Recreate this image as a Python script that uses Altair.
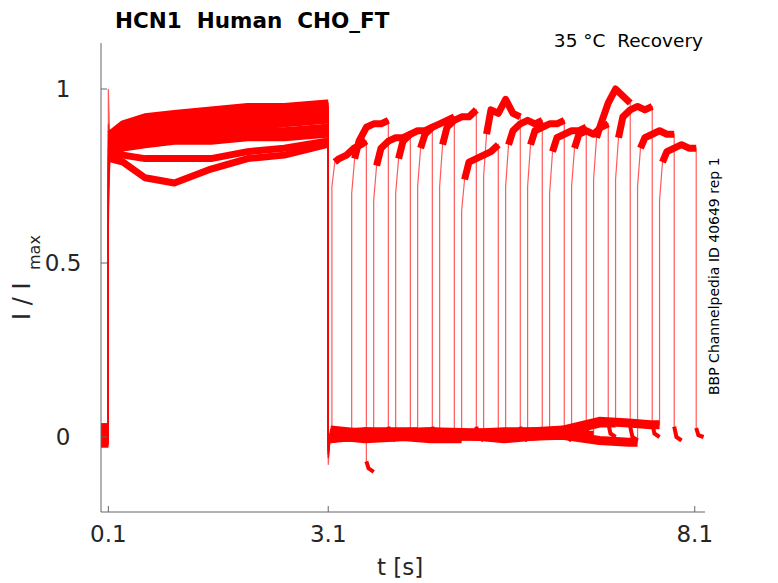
import altair as alt
import pandas as pd

# ---------------- data ----------------
W, H = 604, 469
X_DOMAIN = [0.0, 8.24]
Y_DOMAIN = [-0.2155, 1.1322]

ONSETS = [3.15, 3.42, 3.72, 4.02, 4.32, 4.62, 4.92, 5.22, 5.52, 5.82, 6.12, 6.42, 6.72, 7.02, 7.32, 7.62]
ENDS = [3.62, 3.92, 4.22, 4.52, 4.82, 5.12, 5.42, 5.72, 6.02, 6.32, 6.62, 6.92, 7.22, 7.52, 7.82, 8.12]

PRE_V = [0.00, 0.01, -0.01, 0.02, 0.00, -0.02, 0.01, 0.00, 0.03, -0.01, 0.00, 0.01, -0.02, 0.02, 0.00, 0.01]
JUMP_V = [0.80, 0.72, 0.65, 1.00, 0.78, 0.85, 0.60, 0.82, 0.75, 0.88, 0.70, 0.83, 0.76, 0.90, 0.68, 0.80]

ACT_T = [0.12, 0.3, 0.6, 1.0, 1.5, 2.0, 2.5, 3.08]
ACT_V = [
    [0.86, 0.88, 0.90, 0.91, 0.92, 0.93, 0.93, 0.94],
    [0.84, 0.86, 0.87, 0.88, 0.89, 0.90, 0.91, 0.92],
    [0.80, 0.79, 0.745, 0.73, 0.77, 0.80, 0.81, 0.84],
    [0.85, 0.88, 0.90, 0.92, 0.93, 0.94, 0.94, 0.95],
    [0.83, 0.85, 0.86, 0.87, 0.87, 0.88, 0.88, 0.89],
    [0.87, 0.90, 0.92, 0.93, 0.94, 0.95, 0.95, 0.96],
    [0.80, 0.81, 0.80, 0.80, 0.80, 0.82, 0.83, 0.85],
    [0.86, 0.89, 0.91, 0.92, 0.93, 0.93, 0.94, 0.94],
    [0.84, 0.86, 0.88, 0.89, 0.90, 0.91, 0.92, 0.93],
    [0.85, 0.87, 0.89, 0.90, 0.91, 0.92, 0.93, 0.93],
    [0.82, 0.84, 0.85, 0.86, 0.86, 0.87, 0.87, 0.88],
    [0.86, 0.88, 0.90, 0.91, 0.92, 0.92, 0.93, 0.94],
    [0.83, 0.85, 0.87, 0.88, 0.88, 0.89, 0.90, 0.91],
    [0.87, 0.89, 0.91, 0.92, 0.93, 0.94, 0.95, 0.95],
    [0.81, 0.83, 0.84, 0.85, 0.85, 0.86, 0.86, 0.87],
    [0.85, 0.87, 0.89, 0.91, 0.91, 0.92, 0.92, 0.93],
]
DROP_V = [-0.05, -0.03, -0.08, -0.04, -0.02, -0.06, -0.03, -0.05, -0.02, -0.04, -0.03, -0.06, -0.02, -0.04, -0.03, -0.05]

DEACT_T = [3.13, 3.6, 4.5, 5.5, 6.3, 6.8, 7.2, 7.5]
DEACT_V = [
    [0.010, 0.005, 0.005, 0.005, 0.005, 0.005, 0.005, 0.005],
    [0.000, 0.010, 0.005, 0.005, 0.005, 0.005, 0.005, 0.005],
    [0.015, 0.000, 0.005, 0.005, 0.005, 0.005, 0.005, 0.005],
    [-0.005, 0.005, 0.010, 0.005, 0.005, 0.005, 0.005, 0.005],
    [0.010, 0.015, 0.005, 0.005, 0.005, 0.005, 0.005, 0.005],
    [0.000, 0.000, 0.010, 0.005, 0.005, 0.005, 0.005, 0.005],
    [0.020, 0.010, -0.005, 0.010, 0.005, 0.005, 0.005, 0.005],
    [0.005, -0.005, 0.005, 0.000, 0.005, 0.005, 0.005, 0.005],
    [0.010, 0.005, 0.015, 0.010, 0.005, 0.005, 0.005, 0.005],
    [-0.005, 0.015, 0.000, 0.005, 0.010, 0.005, 0.005, 0.005],
    [0.015, 0.000, 0.005, 0.015, 0.000, 0.005, 0.005, 0.005],
    [0.005, 0.010, 0.015, -0.005, 0.010, 0.015, 0.005, 0.005],
    [0.000, 0.005, 0.000, 0.010, 0.005, 0.030, 0.005, 0.005],
    [0.010, 0.000, 0.010, 0.005, 0.015, 0.040, 0.045, 0.005],
    [0.005, 0.010, 0.005, 0.000, 0.005, -0.010, -0.015, -0.005],
    [0.000, 0.005, 0.010, 0.010, 0.020, 0.045, 0.040, 0.035],
]

REC_DT = [0.0, 0.04, 0.1, 0.2, 0.3, 0.4]
REC_V = [
    [0.72, 0.79, 0.80, 0.81, 0.83, 0.84, 0.85],
    [0.70, 0.80, 0.85, 0.89, 0.90, 0.90, 0.91],
    [0.68, 0.78, 0.83, 0.85, 0.86, 0.86, 0.87],
    [0.70, 0.80, 0.85, 0.87, 0.88, 0.88, 0.89],
    [0.72, 0.83, 0.87, 0.89, 0.90, 0.91, 0.92],
    [0.72, 0.84, 0.89, 0.91, 0.92, 0.92, 0.94],
    [0.65, 0.74, 0.79, 0.80, 0.81, 0.82, 0.84],
    [0.75, 0.87, 0.94, 0.93, 0.97, 0.93, 0.92],
    [0.72, 0.84, 0.88, 0.90, 0.91, 0.90, 0.91],
    [0.72, 0.84, 0.88, 0.89, 0.90, 0.90, 0.91],
    [0.70, 0.82, 0.86, 0.87, 0.88, 0.88, 0.89],
    [0.72, 0.83, 0.87, 0.88, 0.87, 0.89, 0.90],
    [0.74, 0.86, 0.90, 0.96, 1.00, 0.98, 0.96],
    [0.74, 0.86, 0.92, 0.94, 0.95, 0.94, 0.95],
    [0.72, 0.83, 0.86, 0.87, 0.88, 0.87, 0.87],
    [0.68, 0.79, 0.82, 0.83, 0.84, 0.83, 0.83],
]

FALL_V = [-0.07, 0.03, 0.02, 0.03, 0.02, 0.03, 0.02, 0.03, 0.02, 0.03, 0.03, 0.04, 0.03, 0.04, 0.03, 0.026]
TAIL_DT = [0.03, 0.10]
TAIL_V = [
    [-0.09, -0.10], [0.00, -0.01], [0.00, 0.00], [0.00, -0.01], [0.00, 0.00], [0.00, -0.01],
    [0.00, 0.00], [0.00, -0.01], [0.00, 0.00], [0.00, -0.01], [0.00, 0.00], [0.01, 0.00],
    [0.00, -0.01], [0.01, 0.00], [0.00, -0.01], [0.005, 0.00],
]

TICK_X = [0.1, 3.1, 8.1]
TICK_X_LABELS = ["0.1", "3.1", "8.1"]
TICK_Y = [0.0, 0.5, 1.0]
TICK_Y_LABELS = ["0", "0.5", "1"]

NB = "\u00a0"
TITLE = f"HCN1{NB}{NB}Human{NB}{NB}CHO_FT"
SUBTITLE = f"35{NB}°C{NB}{NB}Recovery"
SIDE_NOTE = "BBP Channelpedia ID 40649 rep 1"

# ---------------- build the trace table ----------------
rows = []
for k in range(len(ONSETS)):
    n = [0]

    def add(t, v, seg, thick):
        rows.append({"trace": k, "i": n[0], "t": t, "v": v, "seg": f"{k}-{seg}",
                     "part": seg, "thick": thick})
        n[0] += 1

    add(0.0, PRE_V[k], "pre", True)
    add(0.1, PRE_V[k], "pre", True)
    add(0.1, JUMP_V[k], "jump", False)
    for t, v in zip(ACT_T, ACT_V[k]):
        add(t, v, "act", True)
    add(3.1, ACT_V[k][-1], "act", True)
    add(3.1, DROP_V[k], "drop", False)
    last = DEACT_V[k][0]
    for t, v in zip(DEACT_T, DEACT_V[k]):
        if t < ONSETS[k]:
            add(t, v, "deact", True)
            last = v
    add(ONSETS[k], last, "deact", True)
    add(ONSETS[k], REC_V[k][0], "rise", False)
    for dt, v in zip(REC_DT[1:], REC_V[k][1:-1]):
        add(ONSETS[k] + dt, v, "rec", True)
    add(ENDS[k], REC_V[k][-1], "rec", True)
    add(ENDS[k], FALL_V[k], "fall", False)
    for dt, v in zip(TAIL_DT, TAIL_V[k]):
        add(ENDS[k] + dt, v, "tail", False)

traces = pd.DataFrame(rows)

xs = alt.Scale(domain=X_DOMAIN, nice=False, zero=False)
ys = alt.Scale(domain=Y_DOMAIN, nice=False, zero=False)
X = alt.X("t:Q", scale=xs, axis=None)
Y = alt.Y("v:Q", scale=ys, axis=None)

RED = "#ff0000"
FONT = "DejaVu Sans"
GRAY = "#666666"
TXT = "#262626"

thick = alt.Chart(traces).transform_filter("datum.thick && datum.part != 'deact'").mark_line(
    color=RED, strokeWidth=7, strokeCap="butt", strokeJoin="round", clip=True
).encode(x=X, y=Y, detail="seg:N", order="i:Q")

deact = alt.Chart(traces).transform_filter("datum.part == 'deact'").mark_line(
    color=RED, strokeWidth=9, strokeCap="butt", strokeJoin="round", clip=True
).encode(x=X, y=Y, detail="seg:N", order="i:Q")

thin = alt.Chart(traces).mark_line(
    color=RED, strokeWidth=1.2, opacity=0.65, clip=True
).encode(x=X, y=Y, detail="trace:N", order="i:Q")

tails = alt.Chart(traces).transform_filter("datum.part == 'tail' || datum.part == 'fall'").mark_line(
    color=RED, strokeWidth=4, strokeCap="butt", clip=True
).encode(x=X, y=Y, detail="trace:N", order="i:Q")

one = pd.DataFrame({"a": [0]})
axis_left = alt.Chart(one).mark_rule(color=GRAY, strokeWidth=1).encode(
    x=alt.value(0), y=alt.value(0), y2=alt.value(H))
axis_bottom = alt.Chart(one).mark_rule(color=GRAY, strokeWidth=1).encode(
    x=alt.value(0), x2=alt.value(W), y=alt.value(H))

xt = pd.DataFrame({"t": TICK_X, "lab": TICK_X_LABELS})
yt = pd.DataFrame({"v": TICK_Y, "lab": TICK_Y_LABELS})

xticks = alt.Chart(xt).mark_rule(color=GRAY, strokeWidth=1).encode(
    x=X, y=alt.value(H), y2=alt.value(H - 6))
yticks = alt.Chart(yt).mark_rule(color=GRAY, strokeWidth=1).encode(
    y=Y, x=alt.value(0), x2=alt.value(6))

xlabels = alt.Chart(xt).mark_text(
    font=FONT, fontSize=23, color=TXT, align="center", baseline="alphabetic"
).encode(x=X, y=alt.value(499), text="lab:N")
ylabels = alt.Chart(yt).mark_text(
    font=FONT, fontSize=23, color=TXT, align="center", baseline="alphabetic", dy=8
).encode(y=Y, x=alt.value(-38), text="lab:N")

def label(text, x, y, size, **kw):
    return alt.Chart(pd.DataFrame({"s": [text]})).mark_text(
        font=FONT, fontSize=size, **kw
    ).encode(x=alt.value(x), y=alt.value(y), text="s:N")

title = label(TITLE, 14, -15, 21.5, fontWeight="bold", color="#000000", align="left", baseline="alphabetic")
subtitle = label(SUBTITLE, 602, 4, 18.5, color="#000000", align="right", baseline="alphabetic")
side = label(SIDE_NOTE, 618, 352, 14, color="#000000", align="left", baseline="alphabetic", angle=270)
xtitle = label("t [s]", 299, 532, 23, color=TXT, align="center", baseline="alphabetic")
ytitle1 = label(f"I{NB}/{NB}I", -71, 277, 24, color=TXT, align="left", baseline="alphabetic", angle=270)
ytitle2 = label("max", -61, 227, 16, color=TXT, align="left", baseline="alphabetic", angle=270)

chart = alt.layer(
    deact, thick, tails, thin, axis_left, axis_bottom, xticks, yticks, xlabels, ylabels,
    title, subtitle, side, xtitle, ytitle1, ytitle2,
).properties(
    width=W, height=H,
    autosize=alt.AutoSizeParams(type="none"),
    padding={"left": 93, "top": 35, "right": 65, "bottom": 70},
).configure(
    background="white",
    view=alt.ViewConfig(stroke="transparent", strokeWidth=0),
)

chart.save("out.html", embed_options={"renderer": "svg", "actions": False})
